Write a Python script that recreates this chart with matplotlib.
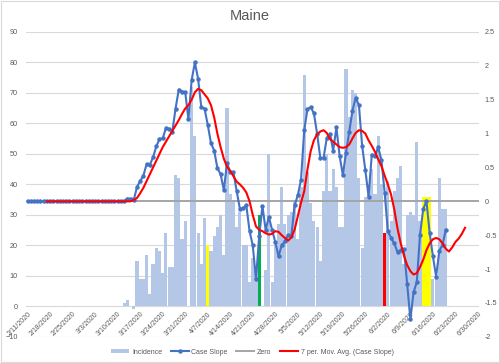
import matplotlib
matplotlib.use("Agg")
import matplotlib.pyplot as plt
from matplotlib.lines import Line2D
from matplotlib.patches import Patch, Rectangle
import pandas as pd

plt.rcParams["font.family"] = "Liberation Sans"

# ---- data ----
start = "2020-02-11"
dates = pd.date_range(start, "2020-06-20")          # days with data
red_dates = pd.date_range("2020-02-17", "2020-06-26")  # moving-average line
zero_dates = pd.date_range(start, "2020-06-30")

incidence = [0] * 30 + [
    1, 2, 0, -1, 15, 9, 9, 17, 4, 14,
    19, 18, 11, 24, 13, 13, 43, 42, 22, 28,
    0, 72, 56, 24, 14, 29, 20, 18, 23, 26,
    30, 17, 65, 37, 35, 26, 31, 20, 20, 8,
    16, 13, 30, 0, 12, 50, 8, 20, 27, 39,
    27, 30, 31, 35, 22, 39, 76, 44, 34, 28,
    26, 15, 38, 50, 38, 45, 39, 26, 26, 78,
    62, 71, 70, 42, 19, 36, 37, 45, 37, 56,
    40, 24, 41, 28, 38, 42, 46, 14, 30, 31,
    30, 54, 28, 36, 36, 36, 9, 9, 42, 32, 32,
]

case_slope = [0.0] * 30 + [
    0.00, 0.04, 0.04, 0.02, 0.21, 0.30, 0.38, 0.55, 0.54, 0.65,
    0.81, 0.92, 0.93, 1.08, 1.07, 1.03, 1.37, 1.65, 1.62, 1.61,
    1.21, 1.79, 2.05, 1.81, 1.39, 1.37, 1.13, 0.86, 0.75, 0.49,
    0.40, 0.17, 0.56, 0.43, 0.43, 0.15, -0.11, -0.10, -0.06, -0.44,
    -0.65, -1.15, -0.51, -0.07, -0.42, -0.23, -0.42, -0.60, -0.81, -0.65,
    -0.59, -0.50, -0.51, -0.06, 0.09, 0.32, 1.05, 1.36, 1.39, 1.30,
    1.00, 0.64, 0.64, 0.93, 1.00, 0.75, 1.09, 0.67, 0.39, 0.72,
    1.03, 1.34, 1.53, 1.42, 0.82, 0.46, 0.07, 0.69, 0.67, 0.80,
    0.61, 0.13, -0.44, -0.54, -0.62, -0.75, -0.72, -0.70, -1.22, -1.74,
    -1.34, -1.19, -0.49, -0.11, 0.00, -0.47, -0.81, -1.11, -0.73, -0.64, -0.42,
]

mov_avg = [0.0] * 27 + [
    0.02, 0.05, 0.12, 0.20, 0.30, 0.40, 0.50,
    0.60, 0.70, 0.80, 0.88, 0.96, 1.04, 1.12, 1.20, 1.29, 1.37,
    1.42, 1.50, 1.61, 1.66, 1.64, 1.58, 1.52, 1.42, 1.24, 1.00,
    0.80, 0.63, 0.51, 0.45, 0.37, 0.29, 0.25, 0.20, 0.13, 0.00,
    -0.20, -0.37, -0.42, -0.44, -0.47, -0.49, -0.48, -0.44, -0.45, -0.50,
    -0.54, -0.58, -0.53, -0.42, -0.22, -0.02, 0.15, 0.47, 0.74, 0.90,
    0.99, 1.03, 1.05, 1.01, 0.92, 0.88, 0.84, 0.80, 0.79, 0.80,
    0.84, 0.93, 1.01, 1.05, 1.04, 1.00, 0.90, 0.82, 0.73, 0.62,
    0.52, 0.38, 0.25, 0.10, -0.12, -0.40, -0.62, -0.80, -0.94, -1.03,
    -1.08, -1.06, -0.97, -0.86, -0.72, -0.62, -0.56, -0.54, -0.56, -0.62,
    -0.70, -0.74, -0.68, -0.60, -0.55, -0.48, -0.39,
]

zero = [0.0] * len(zero_dates)

highlight = {
    "2020-04-07": "#FFFF00",
    "2020-04-23": "#00B050",
    "2020-06-01": "#FF0000",
    "2020-06-13": "#FFFF00",
    "2020-06-14": "#FFFF00",
    "2020-06-15": "#FFFF00",
}

tick_dates = pd.date_range(start, "2020-06-30", freq="7D")
tick_labels = ["2/11/2020", "2/18/2020", "2/25/2020", "3/3/2020", "3/10/2020",
               "3/17/2020", "3/24/2020", "3/31/2020", "4/7/2020", "4/14/2020",
               "4/21/2020", "4/28/2020", "5/5/2020", "5/12/2020", "5/19/2020",
               "5/26/2020", "6/2/2020", "6/9/2020", "6/16/2020", "6/23/2020",
               "6/30/2020"]

left_ticks = list(range(-10, 100, 10))
right_ticks = [-2, -1.5, -1, -0.5, 0, 0.5, 1, 1.5, 2, 2.5]
right_labels = ["-2", "-1.5", "-1", "-0.5", "0", "0.5", "1", "1.5", "2", "2.5"]

# ---- plot ----
txt = "#595959"
bar_blue = "#B4C7E7"
fig = plt.figure(figsize=(5.0, 3.63), dpi=100)
ax = fig.add_axes([0.052, 0.072, 0.906, 0.84])
ax2 = ax.twinx()

# x labels sit on the value-0 line, like Excel's category axis
ax.spines["bottom"].set_position(("data", 0))

bar_colors = [highlight.get(d.strftime("%Y-%m-%d"), bar_blue) for d in dates]
ax.bar(dates, incidence, width=0.97, color=bar_colors, linewidth=0, zorder=2)

ax.set_ylim(-10, 90)
ax.set_yticks(left_ticks)
ax.yaxis.grid(True, color="#D9D9D9", linewidth=0.8)
ax.set_axisbelow(True)
ax.set_xlim(pd.Timestamp("2020-02-10 12:00"), pd.Timestamp("2020-06-30 08:00"))
ax.set_xticks(tick_dates)
ax.set_xticklabels(tick_labels)

ax2.plot(zero_dates, zero, color="#A5A5A5", linewidth=1.4, zorder=3)
ax2.plot(dates, case_slope, color="#4472C4", linewidth=1.5, marker="o",
         markersize=2.2, zorder=4)
ax2.plot(red_dates, mov_avg, color="#FF0000", linewidth=1.5, zorder=5)
ax2.set_ylim(-2, 2.5)
ax2.set_yticks(right_ticks)
ax2.set_yticklabels(right_labels)

for a in (ax, ax2):
    for s in a.spines.values():
        s.set_visible(False)
    a.tick_params(length=0, labelsize=5.2, labelcolor=txt)
ax.tick_params(axis="y", pad=6)
ax.tick_params(axis="x", pad=3, labelsize=5)
ax2.tick_params(axis="y", pad=4)
for lab in ax.get_xticklabels():
    lab.set_rotation(45)
    lab.set_ha("right")
    lab.set_rotation_mode("anchor")

fig.text(0.5, 0.955, "Maine", ha="center", va="center", fontsize=10.5, color=txt)

handles = [
    Patch(facecolor=bar_blue, edgecolor="none"),
    Line2D([], [], color="#4472C4", linewidth=1.5, marker="o", markersize=2.2),
    Line2D([], [], color="#A5A5A5", linewidth=1.4),
    Line2D([], [], color="#FF0000", linewidth=1.5),
]
fig.legend(handles, ["Incidence", "Case Slope", "Zero", "7 per. Mov. Avg. (Case Slope)"],
           loc="center", bbox_to_anchor=(0.505, 0.03), ncol=4, frameon=False,
           fontsize=5, labelcolor=txt, handlelength=2.6, handleheight=0.6,
           columnspacing=1.2, handletextpad=0.4)

fig.add_artist(Rectangle((0.002, 0.002), 0.996, 0.996, transform=fig.transFigure,
                         fill=False, edgecolor="#D9D9D9", linewidth=0.8))

fig.savefig("out.png", dpi=100)
